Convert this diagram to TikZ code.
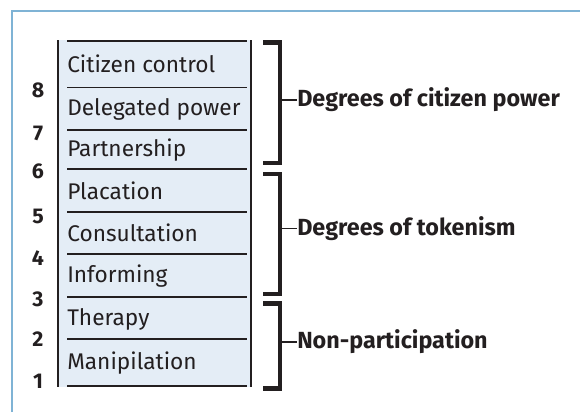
\documentclass[tikz,border=0pt]{standalone}
\usepackage{fontspec}
\setmainfont{Fira Sans}
\definecolor{frameblue}{HTML}{7FB3D5}
\definecolor{rungfill}{HTML}{E4EDF6}
\definecolor{inkblack}{HTML}{231F20}
\tikzset{
	rung/.style={line width=1.1pt, inkblack},
	endrung/.style={line width=2.2pt, inkblack},
	rail/.style={line width=1.9pt, inkblack},
	rungtext/.style={anchor=west, inner sep=0pt, text=inkblack, font=\fontsize{17}{19}\selectfont},
	rungnum/.style={inner sep=0pt, text=inkblack, font=\bfseries\fontsize{16}{18}\selectfont},
	bracket/.style={line width=3.6pt, inkblack},
	tick/.style={line width=1.4pt, inkblack},
	grouplabel/.style={anchor=west, inner sep=0pt, text=inkblack, font=\bfseries\fontsize{17.5}{20}\selectfont}
}
\begin{document}
\begin{tikzpicture}[x=0.75pt, y=-0.75pt]
				
				\useasboundingbox (0,0) rectangle (580,412);
				
				\draw[frameblue, line width=2.2pt] (12,412) -- (12,11) -- (580,11);
				
				\fill[rungfill] (58,40) rectangle (251,387);
				
				\draw[rail] (58,40) -- (58,387);
				
				\draw[rail] (251,40) -- (251,387);
				
				\draw[endrung] (67,41) -- (247,41);
				\draw[rung] (67,87.5) -- (247,87.5);
				\draw[rung] (67,130) -- (247,130);
				\draw[rung] (67,169) -- (247,169);
				\draw[rung] (67,212) -- (247,212);
				\draw[rung] (67,254) -- (247,254);
				\draw[rung] (67,297) -- (247,297);
				\draw[rung] (67,339) -- (247,339);
				\draw[endrung] (67,386) -- (247,386);
				
				\node[rungtext] (citizen) at (67,64) {Citizen control};
				\node[rungtext] (delegated) at (67,109) {Delegated power};
				\node[rungtext] (partnership) at (67,150) {Partnership};
				\node[rungtext] (placation) at (67,191) {Placation};
				\node[rungtext] (consultation) at (67,233) {Consultation};
				\node[rungtext] (informing) at (67,276) {Informing};
				\node[rungtext] (therapy) at (67,319) {Therapy};
				\node[rungtext] (manipilation) at (67,363) {Manipilation};
				
				\node[rungnum] (n8) at (38,90) {8};
				\node[rungnum] (n7) at (38,133) {7};
				\node[rungnum] (n6) at (38,171) {6};
				\node[rungnum] (n5) at (38,216) {5};
				\node[rungnum] (n4) at (38,258) {4};
				\node[rungnum] (n3) at (38,299) {3};
				\node[rungnum] (n2) at (38,339) {2};
				\node[rungnum] (n1) at (38,381) {1};
				
				\draw[bracket] (263,42.5) -- (280,42.5) -- (280,163) -- (263,163);
				\draw[bracket] (263,174) -- (280,174) -- (280,294) -- (263,294);
				\draw[bracket] (263,303.5) -- (280,303.5) -- (280,388.5) -- (263,388.5);
				
				\coordinate (powertick) at (281,100);
				\coordinate (tokentick) at (281,228.5);
				\coordinate (nonparttick) at (281,342);
				
				\node[grouplabel] (power) at (297,100) {Degrees of citizen power};
				\node[grouplabel] (tokenism) at (297,228.5) {Degrees of tokenism};
				\node[grouplabel] (nonpart) at (297,342) {Non-participation};
				
				\draw[tick] (powertick) -- (power.west);
				\draw[tick] (tokentick) -- (tokenism.west);
				\draw[tick] (nonparttick) -- (nonpart.west);
				
\end{tikzpicture}
\end{document}
